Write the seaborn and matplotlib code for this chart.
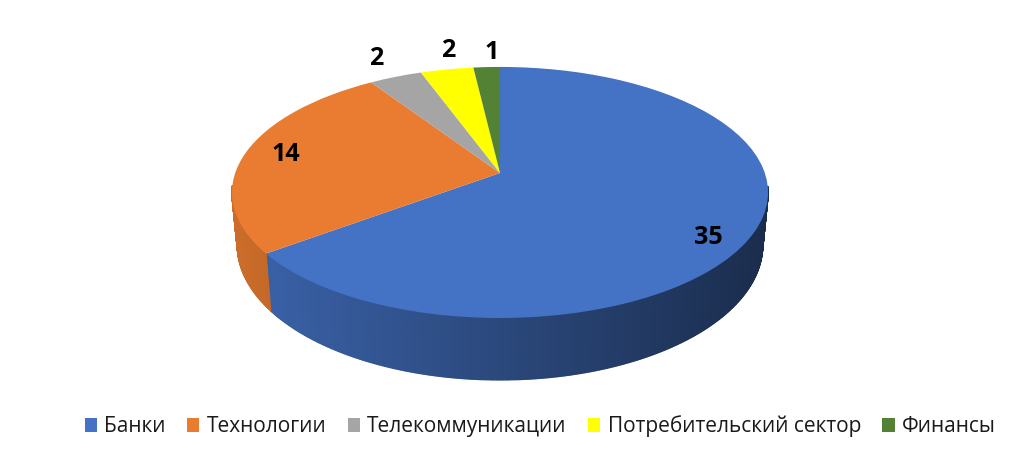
import numpy as np
import matplotlib
matplotlib.use('Agg')
import matplotlib.pyplot as plt
import seaborn as sns
from matplotlib.transforms import Transform

categories = ['Банки', 'Технологии', 'Телекоммуникации', 'Потребительский сектор', 'Финансы']
values = [35, 14, 2, 2, 1]
colors = ['#4472C4', '#E97C30', '#A5A5A5', '#FFFF00', '#548235']

# сдвиг подписей от середины дуги, в пикселях
label_offsets = [(-46, 5), (40, 2), (-19, -18), (1, -19), (5, -15)]

sns.set_theme(style='white')
plt.rcParams['font.family'] = ['Open Sans', 'DejaVu Sans']


# перспектива: единичный круг pie -> эллипс с центром выше середины
class Perspective(Transform):
    input_dims = 2
    output_dims = 2

    def __init__(self, a, b, k, x0, y0):
        super().__init__()
        self.a, self.b, self.k, self.x0, self.y0 = a, b, k, x0, y0

    def transform_non_affine(self, xy):
        xy = np.asarray(xy, dtype=float)
        w = 1 + self.k * xy[:, 1]
        return np.column_stack([self.x0 + self.a * xy[:, 0] / w,
                                self.y0 - self.b * xy[:, 1] / w])


top = Perspective(264.8, 122.5, 0.155, 500, 173)
bottom = Perspective(259.5, 131.7, 0.155, 500, 224)

fig = plt.figure(figsize=(10.24, 4.59), dpi=100)
ax = fig.add_axes([0, 0, 1, 1])

wedges, _ = ax.pie(values, colors=colors, startangle=90, counterclock=False,
                   wedgeprops={'linewidth': 0})
for w in wedges:
    w.set_transform(top + ax.transData)
    w.set_zorder(3)

# боковая стенка, темнеет слева направо (только передняя часть)
shares = np.cumsum([0] + values) / sum(values)
angles = 90 - 360 * shares
for i, color in enumerate(colors):
    theta = np.radians(np.linspace(angles[i], angles[i + 1], values[i] * 20 + 1))
    unit = np.column_stack([np.cos(theta), np.sin(theta)])
    upper = top.transform_non_affine(unit)
    lower = bottom.transform_non_affine(unit)
    rgb = np.array(matplotlib.colors.to_rgb(color))
    for j in range(len(theta) - 1):
        if unit[j, 1] > -0.1:
            continue
        quad = np.vstack([upper[j:j + 2], lower[j:j + 2][::-1]])
        shade = np.interp(quad[:, 0].mean(), [240, 768], [0.87, 0.39])
        ax.fill(quad[:, 0], quad[:, 1], color=rgb * shade, lw=1.0, zorder=2)

# подписи значений
for i, v in enumerate(values):
    mid = np.radians((angles[i] + angles[i + 1]) / 2)
    x, y = top.transform_non_affine(np.array([[np.cos(mid), np.sin(mid)]]))[0]
    ax.text(x + label_offsets[i][0], y + label_offsets[i][1], str(v), fontsize=18,
            fontweight='bold', color='black', ha='center', va='center', zorder=4)

ax.set_aspect('auto')
ax.set_xlim(0, 1024)
ax.set_ylim(459, 0)
ax.axis('off')

ax.legend(wedges, categories, ncol=5, loc='center', bbox_to_anchor=(0.5275, 0.071),
          frameon=False, fontsize=15, handlelength=0.6, handleheight=0.6,
          handletextpad=0.35, columnspacing=1.01, labelcolor='#1a1a1a')

fig.savefig('out.png', dpi=100)
